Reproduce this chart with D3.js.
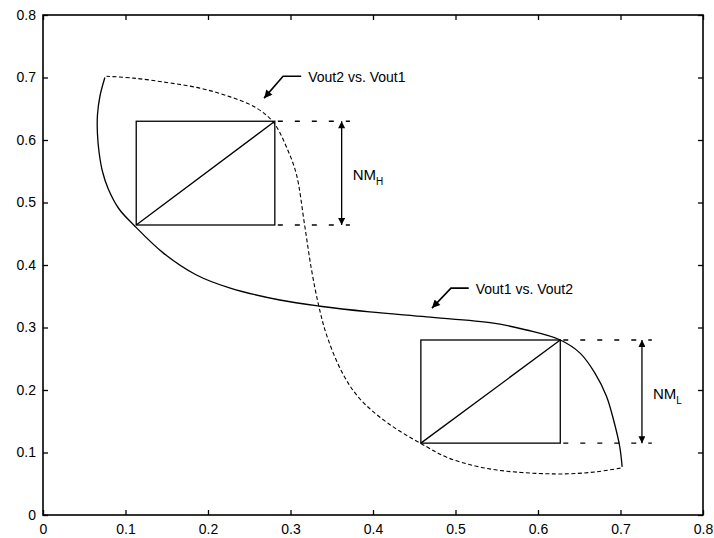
<!DOCTYPE html>
<html>
<head>
<meta charset="utf-8">
<script src="https://cdn.jsdelivr.net/npm/d3@7"></script>
<style>
  html, body { margin: 0; padding: 0; background: #fff; }
  text { font-family: "Liberation Sans", Arial, sans-serif; fill: #000; }
</style>
</head>
<body>
<svg id="chart" width="714" height="538"></svg>
<script>
// butterfly curve: one inverter transfer curve, drawn once as-is and once mirrored
const vtcIn  = [0.075, 0.069, 0.066, 0.066, 0.068, 0.072, 0.079, 0.092, 0.110, 0.146, 0.186, 0.227,
                0.287, 0.336, 0.396, 0.465, 0.546, 0.586, 0.627, 0.651, 0.669, 0.683, 0.692, 0.699, 0.702];
const vtcOut = [0.700, 0.670, 0.640, 0.610, 0.580, 0.550, 0.522, 0.490, 0.464, 0.419, 0.384, 0.363,
                0.344, 0.334, 0.325, 0.317, 0.307, 0.296, 0.280, 0.259, 0.227, 0.190, 0.150, 0.110, 0.077];

const tickValues = [0, 0.1, 0.2, 0.3, 0.4, 0.5, 0.6, 0.7, 0.8];
const tickLabels = ["0", "0.1", "0.2", "0.3", "0.4", "0.5", "0.6", "0.7", "0.8"];

// noise margin squares (high, low)
const boxX0 = [0.113, 0.458];
const boxX1 = [0.281, 0.627];
const boxY0 = [0.464, 0.115];
const boxY1 = [0.630, 0.280];
const nmArrowX = [0.362, 0.726];
const nmLineEnd = [0.372, 0.738];
const nmSub = ["H", "L"];

const curveLabels = ["Vout2 vs. Vout1", "Vout1 vs. Vout2"];

const svg = d3.select("#chart");
const margin = {top: 15, right: 11, bottom: 23, left: 43};
const width = 714 - margin.left - margin.right;
const height = 538 - margin.top - margin.bottom;

svg.append("rect").attr("width", 714).attr("height", 538).attr("fill", "#fff");

const defs = svg.append("defs");
function addHead(id, w, h) {
  defs.append("marker")
    .attr("id", id)
    .attr("viewBox", "0 0 10 10")
    .attr("refX", 10).attr("refY", 5)
    .attr("markerWidth", w).attr("markerHeight", h)
    .attr("markerUnits", "userSpaceOnUse")
    .attr("orient", "auto-start-reverse")
    .append("path").attr("d", "M0,0L10,5L0,10Z").attr("fill", "#000");
}
addHead("head", 10, 7);
addHead("bighead", 12, 8);

const g = svg.append("g").attr("transform", `translate(${margin.left},${margin.top})`);

const x = d3.scaleLinear().domain([0, 0.8]).range([0, width]);
const y = d3.scaleLinear().domain([0, 0.8]).range([height, 0]);

// axes with inward ticks on all four sides
const fmt = (d, i) => tickLabels[i];
g.append("g").attr("transform", `translate(0,${height})`)
  .call(d3.axisBottom(x).tickValues(tickValues).tickFormat(fmt).tickSizeInner(-5).tickSizeOuter(0).tickPadding(9));
g.append("g")
  .call(d3.axisLeft(y).tickValues(tickValues).tickFormat(fmt).tickSizeInner(-5).tickSizeOuter(0).tickPadding(7));
g.append("g")
  .call(d3.axisTop(x).tickValues(tickValues).tickFormat("").tickSizeInner(-5).tickSizeOuter(0));
g.append("g").attr("transform", `translate(${width},0)`)
  .call(d3.axisRight(y).tickValues(tickValues).tickFormat("").tickSizeInner(-5).tickSizeOuter(0));
g.selectAll(".domain").remove();
g.selectAll(".tick line").attr("stroke", "#000").attr("stroke-width", 1.3);
g.selectAll(".tick text").attr("font-size", 14).attr("font-family", "Liberation Sans, Arial, sans-serif");

g.append("rect")
  .attr("width", width).attr("height", height)
  .attr("fill", "none").attr("stroke", "#000").attr("stroke-width", 1.6);

// curves
const pts = vtcIn.map((v, i) => [v, vtcOut[i]]);
const line = d3.line().x(d => x(d[0])).y(d => y(d[1])).curve(d3.curveCatmullRom.alpha(0.5));

g.append("path").datum(pts)
  .attr("d", line)
  .attr("fill", "none").attr("stroke", "#000").attr("stroke-width", 1.3);

g.append("path").datum(pts.map(d => [d[1], d[0]]))
  .attr("d", line)
  .attr("fill", "none").attr("stroke", "#000").attr("stroke-width", 1.1)
  .attr("stroke-dasharray", "4,2.5");

// noise margin squares
boxX0.forEach((bx, i) => {
  g.append("rect")
    .attr("x", x(bx)).attr("y", y(boxY1[i]))
    .attr("width", x(boxX1[i]) - x(bx)).attr("height", y(boxY0[i]) - y(boxY1[i]))
    .attr("fill", "none").attr("stroke", "#000").attr("stroke-width", 1.3);
  g.append("line")
    .attr("x1", x(bx)).attr("y1", y(boxY0[i]))
    .attr("x2", x(boxX1[i])).attr("y2", y(boxY1[i]))
    .attr("stroke", "#000").attr("stroke-width", 1.3);

  [boxY0[i], boxY1[i]].forEach(v => {
    g.append("line")
      .attr("x1", x(boxX1[i]) + 3).attr("x2", x(nmLineEnd[i]))
      .attr("y1", y(v)).attr("y2", y(v))
      .attr("stroke", "#000").attr("stroke-width", 1.4)
      .attr("stroke-dasharray", "5,12");
  });

  g.append("line")
    .attr("x1", x(nmArrowX[i])).attr("x2", x(nmArrowX[i]))
    .attr("y1", y(boxY1[i])).attr("y2", y(boxY0[i]))
    .attr("stroke", "#000").attr("stroke-width", 1.3)
    .attr("marker-start", "url(#head)").attr("marker-end", "url(#head)");

  const mid = (y(boxY0[i]) + y(boxY1[i])) / 2;
  const t = g.append("text")
    .attr("x", x(nmArrowX[i]) + 11).attr("y", mid + 7)
    .attr("font-size", 15);
  t.append("tspan").text("NM");
  t.append("tspan").attr("font-size", 10).attr("dy", 5).text(nmSub[i]);
});

// curve annotations with leader arrows
const leaderTip = [[0.268, 0.667], [0.4715, 0.331]];
const leaderElbow = [[0.291, 0.702], [0.4945, 0.363]];
const leaderEnd = [0.313, 0.516];

curveLabels.forEach((lab, i) => {
  const path = d3.path();
  path.moveTo(x(leaderEnd[i]), y(leaderElbow[i][1]));
  path.lineTo(x(leaderElbow[i][0]), y(leaderElbow[i][1]));
  path.lineTo(x(leaderTip[i][0]), y(leaderTip[i][1]));
  g.append("path").attr("d", path.toString())
    .attr("fill", "none").attr("stroke", "#000").attr("stroke-width", 1.6)
    .attr("marker-end", "url(#bighead)");
  g.append("text")
    .attr("x", x(leaderEnd[i]) + 7).attr("y", y(leaderElbow[i][1]) + 6)
    .attr("font-size", 14)
    .text(lab);
});
</script>
</body>
</html>
